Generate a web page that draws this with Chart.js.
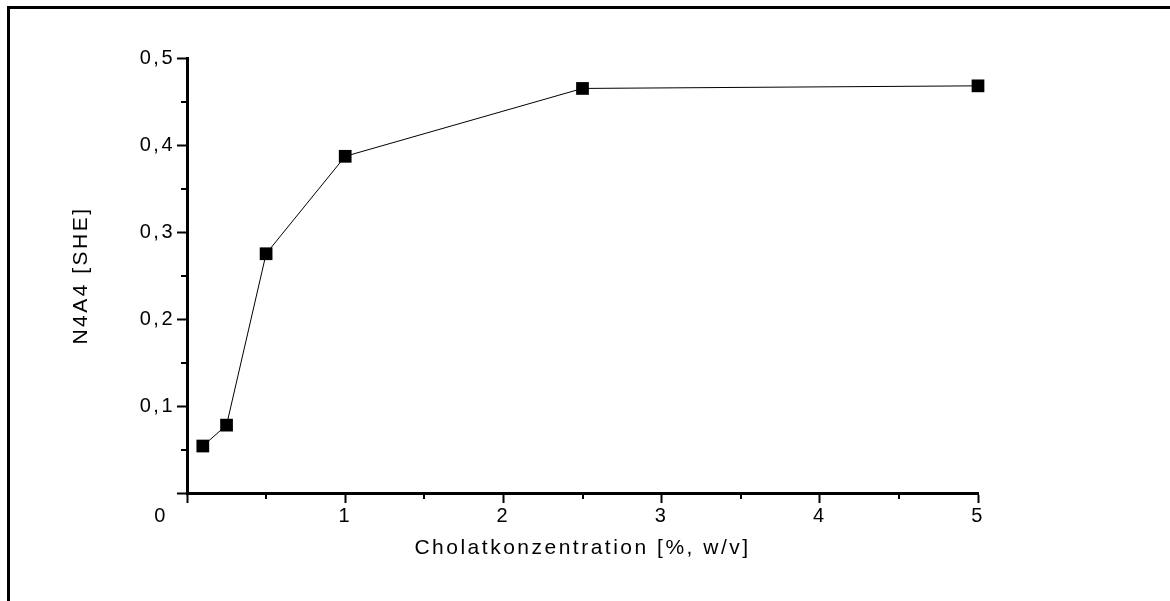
<!DOCTYPE html>
<html>
<head>
<meta charset="utf-8">
<script src="https://cdn.jsdelivr.net/npm/chart.js@4"></script>
<style>
  html, body { margin: 0; padding: 0; background: #fff; }
  canvas { display: block; background: #fff; }
</style>
</head>
<body>
<canvas id="myChart" width="1170" height="601"></canvas>
<script>
const concentration = [0.1, 0.25, 0.5, 1, 2.5, 5];
const n4a4 = [0.054, 0.078, 0.275, 0.387, 0.465, 0.468];
const xTicks = [0, 1, 2, 3, 4, 5];
const yTicks = [0, 0.1, 0.2, 0.3, 0.4, 0.5];
const xMinorTicks = [0.5, 1.5, 2.5, 3.5, 4.5];
const yMinorTicks = [0.05, 0.15, 0.25, 0.35, 0.45];

const tickFont = { family: 'Arial, "Liberation Sans", sans-serif', size: 20 };
const titleFont = { family: 'Arial, "Liberation Sans", sans-serif', size: 21 };

// spaced out lettering like the original export
const spacing = {
    id: 'spacing',
    beforeLayout(chart) { chart.ctx.letterSpacing = '2.5px'; },
    beforeDraw(chart) { chart.ctx.letterSpacing = '2.5px'; }
};

// outer frame (only top and left are visible in the picture)
const frame = {
    id: 'frame',
    beforeDraw(chart) {
        const ctx = chart.ctx;
        ctx.save();
        ctx.strokeStyle = '#000';
        ctx.lineWidth = 3;
        ctx.strokeRect(8.5, 7.5, 2000, 2000);
        ctx.restore();
    }
};

// short minor ticks + the shifted "0" in the corner
const extras = {
    id: 'extras',
    afterDraw(chart) {
        const ctx = chart.ctx;
        const x = chart.scales.x, y = chart.scales.y;
        ctx.save();
        ctx.strokeStyle = '#000';
        ctx.lineWidth = 2;
        ctx.beginPath();
        xMinorTicks.forEach(v => {
            const px = Math.round(x.getPixelForValue(v));
            ctx.moveTo(px, x.top);
            ctx.lineTo(px, x.top + 6);
        });
        yMinorTicks.forEach(v => {
            const py = Math.round(y.getPixelForValue(v));
            ctx.moveTo(y.right, py);
            ctx.lineTo(y.right - 6, py);
        });
        ctx.stroke();
        ctx.fillStyle = '#000';
        ctx.font = tickFont.size + 'px ' + tickFont.family;
        ctx.textAlign = 'center';
        ctx.textBaseline = 'middle';
        ctx.fillText('0', x.getPixelForValue(0) - 26, x.top + 10 + 1 + tickFont.size * 0.6);
        ctx.restore();
    }
};

const myChartRef = document.getElementById('myChart').getContext('2d');
new Chart(myChartRef, {
    type: 'line',
    data: {
        datasets: [
            {
                label: 'N4A4',
                data: concentration.map((c, i) => ({ x: c, y: n4a4[i] })),
                borderColor: '#000',
                borderWidth: 1,
                backgroundColor: '#000',
                pointStyle: 'rect',
                pointRadius: 9,
                pointBorderWidth: 0,
                pointBackgroundColor: '#000',
                tension: 0,
                fill: false,
                clip: false
            }
        ]
    },
    options: {
        responsive: false,
        animation: false,
        devicePixelRatio: 1,
        layout: { padding: { top: 58, right: 192, bottom: 0, left: 0 } },
        plugins: {
            legend: { display: false },
            tooltip: { enabled: false }
        },
        scales: {
            x: {
                type: 'linear',
                min: 0,
                max: 5,
                afterFit: s => { s.height = 108; },
                afterBuildTicks: s => { s.ticks = xTicks.map(v => ({ value: v })); },
                border: { display: true, color: '#000', width: 3 },
                grid: { drawOnChartArea: false, drawTicks: true, tickLength: 10, tickWidth: 2, tickColor: '#000' },
                ticks: {
                    color: '#000',
                    font: tickFont,
                    padding: 1,
                    maxRotation: 0,
                    callback: v => v === 0 ? '' : String(v)
                },
                title: {
                    display: true,
                    text: 'Cholatkonzentration [%, w/v]',
                    color: '#000',
                    font: titleFont,
                    padding: { top: 0, bottom: 40 }
                }
            },
            y: {
                type: 'linear',
                min: 0,
                max: 0.5,
                afterFit: s => { s.width = 187; },
                afterBuildTicks: s => { s.ticks = yTicks.map(v => ({ value: v })); },
                border: { display: true, color: '#000', width: 3 },
                grid: { drawOnChartArea: false, drawTicks: true, tickLength: 10, tickWidth: 2, tickColor: '#000' },
                ticks: {
                    color: '#000',
                    font: tickFont,
                    padding: 2,
                    callback: v => v === 0 ? '' : v.toFixed(1).replace('.', ',')
                },
                title: {
                    display: true,
                    text: 'N4A4 [SHE]',
                    color: '#000',
                    font: titleFont,
                    padding: { top: 69, bottom: 0 }
                }
            }
        }
    },
    plugins: [spacing, frame, extras]
});
</script>
</body>
</html>
